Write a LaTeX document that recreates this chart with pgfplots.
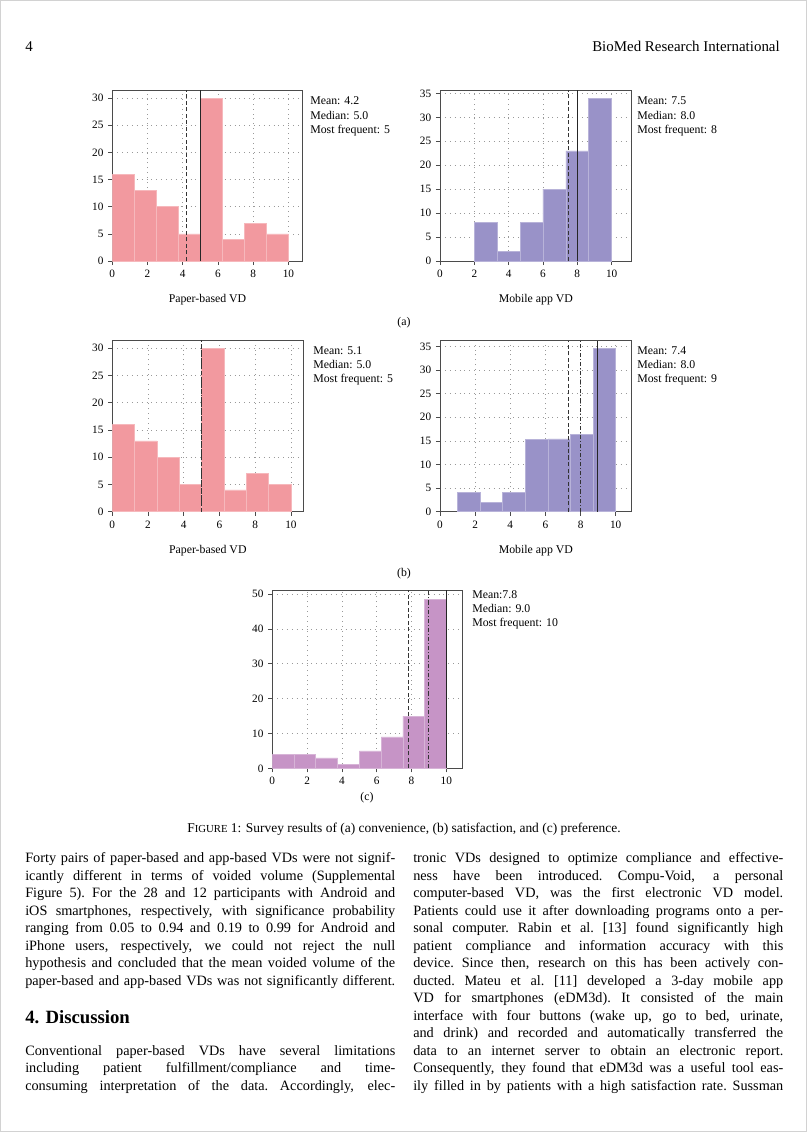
\documentclass[border=0pt]{standalone}
\usepackage{pgfplots}
\pgfplotsset{compat=1.18}
\usepackage{fontspec}
\setmainfont{Liberation Serif}
\definecolor{pinkbar}{RGB}{242,153,159}
\definecolor{purplebar}{RGB}{153,146,200}
\definecolor{magbar}{RGB}{198,148,198}
\definecolor{framegray}{RGB}{75,75,75}
\newlength\colw
\setlength\colw{272.5pt}
\newcommand\jl[1]{\noindent\hbox to\colw{\spaceskip=.25em plus .6em minus .1em\xspaceskip=\spaceskip #1}\par}
\newcommand\bodyfont{\fontsize{10.5}{12.89}\selectfont}
\newcommand\annfont{\fontsize{8.7}{10}\selectfont}
\newcommand\annot[5]{%
  \node[anchor=base west, inner sep=0, font=\annfont] at (#1,#2) {#3};
  \node[anchor=base west, inner sep=0, font=\annfont] at (#1,{#2+14.4}) {#4};
  \node[anchor=base west, inner sep=0, font=\annfont] at (#1,{#2+28.8}) {#5};
}
\pgfplotsset{
  layers/histlayers/.define layer set={axis background,axis grid,pre main,main,axis ticks,axis lines,axis tick labels,axis descriptions,axis foreground}{},
  hist/.style={
    set layers=histlayers,
    scale only axis,
    anchor=south west,
    xmin=0, ymin=0,
    axis line style={draw=framegray, line width=0.6pt},
    tick style={draw=framegray, line width=0.5pt},
    tick align=outside, tick pos=left,
    major tick length=3pt,
    xtick={0,2,...,10},
    grid=major,
    grid style={draw=gray!80, line width=0.5pt, dash pattern=on 0.6pt off 3pt},
    ticklabel style={font=\fontsize{8.3}{9}\selectfont},
    /pgf/number format/assume math mode=true,
    xlabel style={font=\annfont, at={(axis description cs:0.5,0)}, anchor=center, yshift=-28.7pt},
  },
  meanl/.style={black!80, line width=0.7pt, dash pattern=on 3pt off 1.8pt},
  medianl/.style={black!80, line width=0.7pt, dash pattern=on 3pt off 1.5pt on 0.7pt off 1.5pt},
  model/.style={black!85, line width=0.7pt},
}
\begin{document}
\begin{tikzpicture}
\begin{scope}[x=0.7365pt,y=-0.7365pt]
\useasboundingbox (0,0) rectangle (808,1133);
\draw[gray!35, line width=0.75pt] (0.7,0.7) rectangle (806.3,1131.3);
\node[anchor=base west, inner sep=0, font=\fontsize{11}{13}\selectfont] at (25,52) {4};
\node[anchor=base east, inner sep=0, font=\fontsize{11}{13}\selectfont] at (780,52) {BioMed Research International};
\end{scope}

% (a) left
\begin{axis}[hist, at={(82.71pt,-192.23pt)}, width=140.23pt, height=125.94pt,
  xmax=10.81, ymax=31.5, ytick={0,5,...,30}, xlabel={Paper-based VD}]
\addplot[ybar interval, fill=pinkbar, draw=pinkbar!70!white, line width=0.5pt]
  coordinates {(0,16) (1.25,13) (2.5,10) (3.75,5) (5,30) (6.25,4) (7.5,7) (8.75,5) (10,5)};
\addplot[meanl] coordinates {(4.2,0) (4.2,31.5)};
\addplot[medianl] coordinates {(5,0) (5,31.5)};
\addplot[model] coordinates {(5,0) (5,31.5)};
\end{axis}

% (a) right
\begin{axis}[hist, at={(324.06pt,-192.23pt)}, width=141.19pt, height=125.94pt,
  xmax=11.17, ymax=35.7, ytick={0,5,...,35}, xlabel={Mobile app VD}]
\addplot[ybar interval, fill=purplebar, draw=purplebar!70!white, line width=0.5pt]
  coordinates {(2,8) (3.333,2) (4.667,8) (6,15) (7.333,23) (8.667,34) (10,34)};
\addplot[meanl] coordinates {(7.5,0) (7.5,35.7)};
\addplot[medianl] coordinates {(8,0) (8,35.7)};
\addplot[model] coordinates {(8,0) (8,35.7)};
\end{axis}

% (b) left
\begin{axis}[hist, at={(82.71pt,-376.87pt)}, width=140.67pt, height=126.46pt,
  xmax=10.69, ymax=31.5, ytick={0,5,...,30}, xlabel={Paper-based VD}]
\addplot[ybar interval, fill=pinkbar, draw=pinkbar!70!white, line width=0.5pt]
  coordinates {(0,16) (1.25,13) (2.5,10) (3.75,5) (5,30) (6.25,4) (7.5,7) (8.75,5) (10,5)};
\addplot[medianl] coordinates {(5,0) (5,31.5)};
\addplot[meanl] coordinates {(4.97,0) (4.97,31.5)};
\end{axis}

% (b) right
\begin{axis}[hist, at={(324.06pt,-376.87pt)}, width=141.19pt, height=125.94pt,
  xmax=10.91, ymax=36.2, ytick={0,5,...,35}, xlabel={Mobile app VD}]
\addplot[ybar interval, fill=purplebar, draw=purplebar!70!white, line width=0.5pt]
  coordinates {(1,4.1) (2.286,2) (3.571,4.1) (4.857,15.3) (6.143,15.4) (7.429,16.3) (8.714,34.6) (10,34.6)};
\addplot[meanl] coordinates {(7.3,0) (7.3,36.2)};
\addplot[medianl] coordinates {(8,0) (8,36.2)};
\addplot[model] coordinates {(8.95,0) (8.95,36.2)};
\end{axis}

% (c)
\begin{axis}[hist, at={(200.55pt,-565.85pt)}, width=140.23pt, height=131.32pt,
  xmax=10.94, ymax=51.2, ytick={0,10,...,50}]
\addplot[ybar interval, fill=magbar, draw=magbar!70!white, line width=0.5pt]
  coordinates {(0,4) (1.25,4) (2.5,3) (3.75,1) (5,5) (6.25,9) (7.5,15) (8.75,48.6) (10,48.6)};
\addplot[meanl] coordinates {(7.8,0) (7.8,51.2)};
\addplot[medianl] coordinates {(9,0) (9,51.2)};
\addplot[model] coordinates {(10,0) (10,51.2)};
\end{axis}

\begin{scope}[x=0.7365pt,y=-0.7365pt]
\annot{310}{105}{Mean: 4.2}{Median: 5.0}{Most frequent: 5}
\annot{637}{105}{Mean: 7.5}{Median: 8.0}{Most frequent: 8}
\node[anchor=base, inner sep=0, font=\annfont] at (404,325) {(a)};
\annot{313}{354}{Mean: 5.1}{Median: 5.0}{Most frequent: 5}
\annot{637}{354}{Mean: 7.4}{Median: 8.0}{Most frequent: 9}
\node[anchor=base, inner sep=0, font=\annfont] at (404,576) {(b)};
\annot{472}{598}{Mean:7.8}{Median: 9.0}{Most frequent: 10}
\node[anchor=base, inner sep=0, font=\annfont] at (367,800) {(c)};

\node[anchor=base, inner sep=0, font=\fontsize{9.9}{12}\selectfont] at (404,832.5)
  {F{\fontsize{7.9}{9}\selectfont IGURE} 1: Survey results of (a) convenience, (b) satisfaction, and (c) preference.};

\node[anchor=base west, inner sep=0, text width=\colw, font=\bodyfont, align=left] at (25,862.5) {%
\jl{Forty pairs of paper-based and app-based VDs were not signif-}%
\jl{icantly different in terms of voided volume (Supplemental}%
\jl{Figure 5). For the 28 and 12 participants with Android and}%
\jl{iOS smartphones, respectively, with significance probability}%
\jl{ranging from 0.05 to 0.94 and 0.19 to 0.99 for Android and}%
\jl{iPhone users, respectively, we could not reject the null}%
\jl{hypothesis and concluded that the mean voided volume of the}%
\jl{paper-based and app-based VDs was not significantly different.}};

\node[anchor=base west, inner sep=0, font=\fontsize{13.8}{16}\selectfont\bfseries] at (25,1023) {4. Discussion};

\node[anchor=base west, inner sep=0, text width=\colw, font=\bodyfont, align=left] at (25,1055) {%
\jl{Conventional paper-based VDs have several limitations}%
\jl{including patient fulfillment/compliance and time-}%
\jl{consuming interpretation of the data. Accordingly, elec-}};

\node[anchor=base west, inner sep=0, text width=\colw, font=\bodyfont, align=left] at (413,862.5) {%
\jl{tronic VDs designed to optimize compliance and effective-}%
\jl{ness have been introduced. Compu-Void, a personal}%
\jl{computer-based VD, was the first electronic VD model.}%
\jl{Patients could use it after downloading programs onto a per-}%
\jl{sonal computer. Rabin et al. [13] found significantly high}%
\jl{patient compliance and information accuracy with this}%
\jl{device. Since then, research on this has been actively con-}%
\jl{ducted. Mateu et al. [11] developed a 3-day mobile app}%
\jl{VD for smartphones (eDM3d). It consisted of the main}%
\jl{interface with four buttons (wake up, go to bed, urinate,}%
\jl{and drink) and recorded and automatically transferred the}%
\jl{data to an internet server to obtain an electronic report.}%
\jl{Consequently, they found that eDM3d was a useful tool eas-}%
\jl{ily filled in by patients with a high satisfaction rate. Sussman}};
\end{scope}
\end{tikzpicture}
\end{document}
